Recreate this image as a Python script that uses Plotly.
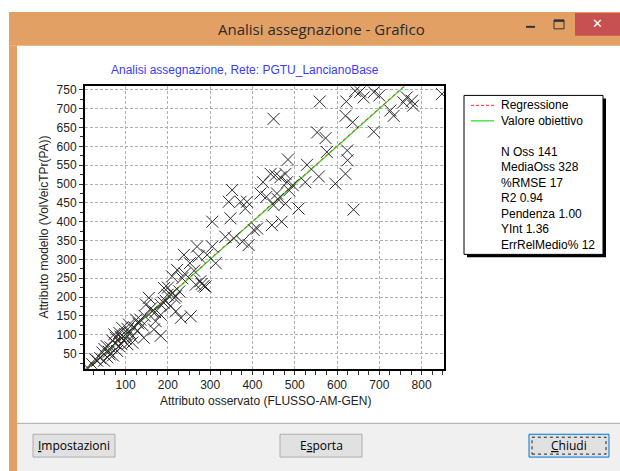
import plotly.graph_objects as go

# ---------------- data ----------------
obs_x = [559, 622, 643, 663, 687, 620, 637, 687, 553, 573, 576, 624, 625, 620, 596, 639, 557, 529, 525, 509,
         765, 777, 780, 757, 848, 726, 734, 655, 700,
         450, 484, 478, 482, 466, 454, 443, 425, 433, 450, 469, 446, 478, 458, 487, 411, 387, 383, 372, 352, 344,
         348, 305, 336, 356, 376, 391, 403, 419, 460, 495, 305,
         313, 293, 269, 273, 238, 222, 234, 277, 289, 266, 210, 191, 199, 219, 227, 183, 206, 219, 231, 254,
         183, 171, 163, 155, 148, 210, 215, 200, 195, 280, 262, 252, 285, 240,
         183, 143, 128, 116, 100, 92, 77, 84, 65, 73, 57, 45, 33, 21, 9, 80, 104, 108, 135, 167,
         69, 49, 88, 95, 60, 70, 40, 55, 85, 100, 110, 120, 130, 75, 90, 62, 50, 28, 115, 145,
         160, 140, 125, 170, 190, 105]
mod_y = [719, 719, 747, 730, 744, 681, 664, 639, 637, 622, 585, 589, 563, 527, 501, 432, 520, 551, 505, 435,
         730, 721, 708, 717, 739, 695, 681, 745, 735,
         673, 565, 527, 505, 518, 523, 527, 505, 466, 444, 400, 391, 448, 475, 483, 382, 453, 435, 453, 484, 453,
         409, 400, 360, 356, 347, 338, 378, 475, 460, 497, 334,
         290, 312, 334, 308, 312, 272, 250, 242, 228, 233, 255, 224, 206, 202, 215, 180, 176, 162, 145, 149,
         153, 136, 162, 198, 180, 210, 198, 225, 190, 235, 270, 290, 230, 262,
         97, 92, 110, 79, 101, 118, 92, 70, 66, 101, 40, 53, 31, 22, 13, 57, 75, 127, 140, 114,
         84, 31, 95, 85, 55, 45, 38, 70, 105, 90, 105, 120, 130, 78, 75, 48, 62, 35, 95, 150,
         170, 125, 140, 160, 185, 115]

slope = 1.00
intercept = 1.36
line_x = [0, 900]

x_ticks = [100, 200, 300, 400, 500, 600, 700, 800]
y_ticks = [50, 100, 150, 200, 250, 300, 350, 400, 450, 500, 550, 600, 650, 700, 750]

legend_items = ["Regressione", "Valore obiettivo"]
stats_lines = ["N Oss 141", "MediaOss 328", "%RMSE 17", "R2 0.94",
               "Pendenza 1.00", "YInt 1.36", "ErrRelMedio% 12"]

window_title = "Analisi assegnazione - Grafico"
chart_title = "Analisi assegnazione, Rete: PGTU_LancianoBase"
x_title = "Attributo osservato (FLUSSO-AM-GEN)"
y_title = "Attributo modello (VolVeicTPr(PA))"
buttons = ["<u>I</u>mpostazioni", "E<u>s</u>porta", "<u>C</u>hiudi"]

# ---------------- layout helpers ----------------
W, H = 620, 471
PL, PR, PT, PB = 85, 444, 84, 368   # plot area in pixels


def px(X):
    return X / W


def py(Y):
    return 1 - Y / H


FONT = "Liberation Sans, Arial, sans-serif"
UIFONT = "Open Sans, Noto Sans, sans-serif"

fig = go.Figure()

fig.add_trace(go.Scatter(
    x=line_x, y=line_x, mode="lines",
    line=dict(color="#1ee01e", width=1.2), showlegend=False, hoverinfo="skip"))
fig.add_trace(go.Scatter(
    x=line_x, y=[slope * v + intercept for v in line_x], mode="lines",
    line=dict(color="#ff2a2a", width=1, dash="3px,3px"), showlegend=False, hoverinfo="skip"))
fig.add_trace(go.Scatter(
    x=obs_x, y=mod_y, mode="markers",
    marker=dict(symbol="x-thin", size=12, line=dict(color="#2a2a2a", width=1)),
    showlegend=False))

axis_common = dict(
    showgrid=True, gridcolor="#b0b0b0", griddash="3px,2px", gridwidth=1,
    showline=True, linecolor="black", linewidth=2, mirror=True,
    ticks="outside", ticklen=4, tickcolor="#333", tickwidth=1,
    tickfont=dict(family=FONT, size=12, color="#222"),
    zeroline=False, fixedrange=True,
)

fig.update_layout(
    width=W, height=H,
    margin=dict(l=0, r=0, t=0, b=0, pad=0),
    paper_bgcolor="white", plot_bgcolor="white",
    xaxis=dict(domain=[px(PL), px(PR)], range=[4, 853], tickvals=x_ticks,
               minor=dict(dtick=25, ticks="outside", ticklen=4, tickcolor="#333", showgrid=False),
               **axis_common),
    yaxis=dict(domain=[py(PB), py(PT)], range=[10, 759], tickvals=y_ticks,
               minor=dict(dtick=25, ticks="outside", ticklen=3, tickcolor="#333", showgrid=False),
               **axis_common),
    showlegend=False,
)

shapes = []
ann = []

# window chrome
ORANGE = "#e3a065"
shapes.append(dict(type="rect", xref="paper", yref="paper", x0=px(9), x1=px(620), y0=py(43), y1=py(9),
                   fillcolor=ORANGE, line=dict(width=0), layer="below"))
shapes.append(dict(type="rect", xref="paper", yref="paper", x0=px(9), x1=px(17), y0=py(471), y1=py(43),
                   fillcolor=ORANGE, line=dict(width=0), layer="below"))
shapes.append(dict(type="rect", xref="paper", yref="paper", x0=px(575), x1=px(620), y0=py(33), y1=py(10),
                   fillcolor="#c75050", line=dict(width=0), layer="below"))
ann.append(dict(text="✕", x=px(597), y=py(21), xref="paper", yref="paper", showarrow=False,
                font=dict(family="DejaVu Sans", size=13, color="white"), xanchor="center", yanchor="middle"))
shapes.append(dict(type="line", xref="paper", yref="paper", x0=px(526), x1=px(535), y0=py(24), y1=py(24),
                   line=dict(color="#333", width=2)))
shapes.append(dict(type="rect", xref="paper", yref="paper", x0=px(554), x1=px(564), y0=py(26), y1=py(17),
                   line=dict(color="#333", width=1)))
shapes.append(dict(type="line", xref="paper", yref="paper", x0=px(554), x1=px(564), y0=py(18), y1=py(18),
                   line=dict(color="#333", width=2)))
ann.append(dict(text=window_title, x=px(321), y=py(26), xref="paper", yref="paper", showarrow=False,
                font=dict(family=UIFONT, size=15, color="#2a2a2a"), xanchor="center", yanchor="middle"))

# button bar
shapes.append(dict(type="rect", xref="paper", yref="paper", x0=px(17), x1=px(620), y0=py(471), y1=py(423),
                   fillcolor="#f0f0f0", line=dict(width=0), layer="below"))
shapes.append(dict(type="line", xref="paper", yref="paper", x0=px(17), x1=px(620), y0=py(423), y1=py(423),
                   line=dict(color="#a8a8a8", width=1)))
btn_pos = [(33, 115), (280, 362), (529, 609)]
for i, (label, (bx0, bx1)) in enumerate(zip(buttons, btn_pos)):
    border = "#0078d7" if i == 2 else "#adadad"
    shapes.append(dict(type="rect", xref="paper", yref="paper", x0=px(bx0), x1=px(bx1), y0=py(457), y1=py(434),
                       fillcolor="#e1e1e1", line=dict(color=border, width=1)))
    if i == 2:
        shapes.append(dict(type="rect", xref="paper", yref="paper", x0=px(bx0 + 3), x1=px(bx1 - 3),
                           y0=py(454), y1=py(437), line=dict(color="#222", width=1, dash="dot")))
    ann.append(dict(text=label, x=px((bx0 + bx1) / 2), y=py(445.5), xref="paper", yref="paper",
                    showarrow=False, font=dict(family=UIFONT, size=12, color="black"),
                    xanchor="center", yanchor="middle"))

# chart texts
ann.append(dict(text=chart_title, x=px(245), y=py(67), xref="paper", yref="paper", showarrow=False,
                font=dict(family=FONT, size=12, color="#3a3aff"), xanchor="center", yanchor="middle"))
ann.append(dict(text=x_title, x=px(265), y=py(401), xref="paper", yref="paper", showarrow=False,
                font=dict(family=FONT, size=12, color="#222"), xanchor="center", yanchor="middle"))
ann.append(dict(text=y_title, x=px(44), y=py(226), xref="paper", yref="paper", showarrow=False, textangle=-90,
                font=dict(family=FONT, size=12, color="#222"), xanchor="center", yanchor="middle"))

# legend box
shapes.append(dict(type="rect", xref="paper", yref="paper", x0=px(467), x1=px(606), y0=py(256), y1=py(96),
                   fillcolor="black", line=dict(width=0)))
shapes.append(dict(type="rect", xref="paper", yref="paper", x0=px(464), x1=px(603), y0=py(253), y1=py(93),
                   fillcolor="white", line=dict(color="black", width=1)))
row_y = [103 + 15.6 * k for k in range(10)]
shapes.append(dict(type="line", xref="paper", yref="paper", x0=px(471), x1=px(494), y0=py(row_y[0]),
                   y1=py(row_y[0]), line=dict(color="#ff2a2a", width=1, dash="3px,2px")))
shapes.append(dict(type="line", xref="paper", yref="paper", x0=px(471), x1=px(494), y0=py(row_y[1]),
                   y1=py(row_y[1]), line=dict(color="#1ee01e", width=1.2)))
lines_text = legend_items + [""] + stats_lines
for k, t in enumerate(lines_text):
    if not t:
        continue
    ann.append(dict(text=t, x=px(499), y=py(row_y[k]), xref="paper", yref="paper", showarrow=False,
                    font=dict(family=FONT, size=12, color="black"), xanchor="left", yanchor="middle"))

fig.update_layout(shapes=shapes, annotations=ann)

fig.write_html("out.html", config={"displayModeBar": False, "staticPlot": True},
               post_script="document.body.style.margin='0px';document.body.style.overflow='hidden';")
